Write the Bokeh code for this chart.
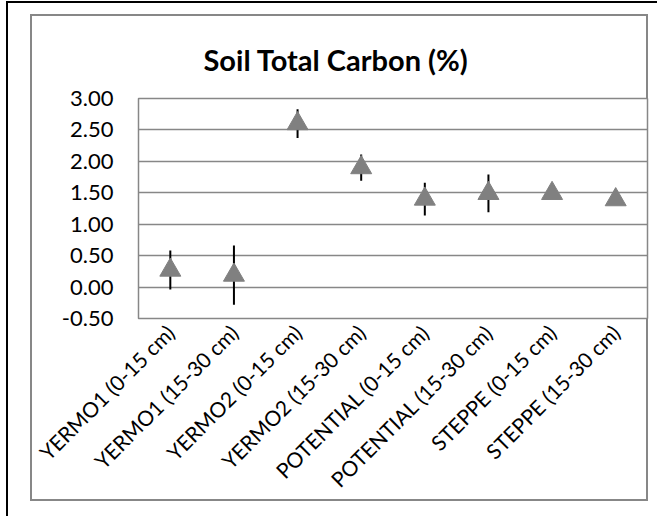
import math
from bokeh.plotting import figure
from bokeh.models import FixedTicker, ColumnDataSource, CustomJSTickFormatter
from bokeh.embed import file_html
from bokeh.resources import INLINE

categories = ["YERMO1 (0-15 cm)", "YERMO1 (15-30 cm)", "YERMO2 (0-15 cm)", "YERMO2 (15-30 cm)",
              "POTENTIAL (0-15 cm)", "POTENTIAL (15-30 cm)", "STEPPE (0-15 cm)", "STEPPE (15-30 cm)"]
values = [0.27, 0.19, 2.60, 1.90, 1.40, 1.49, 1.49, 1.39]
errors = [0.31, 0.47, 0.23, 0.21, 0.26, 0.30, 0.08, 0.08]
y_ticks = [-0.5, 0.0, 0.5, 1.0, 1.5, 2.0, 2.5, 3.0]
title_text = "Soil Total Carbon (%)"

lower = [v - e for v, e in zip(values, errors)]
upper = [v + e for v, e in zip(values, errors)]
src = ColumnDataSource(dict(cat=categories, val=values, lo=lower, hi=upper))

FONT = "Lato"
GRAY = "#878787"

def line(x, y, w, h, c):
    return f"linear-gradient({c}, {c}) {x}px {y}px / {w}px {h}px no-repeat"

# outer black frame (left/top) and grey chart-area border, drawn as CSS backgrounds
bg = ", ".join([
    line(6, 1, 2, 515, "#000"),
    line(6, 1, 651, 2, "#000"),
    line(30, 14, 2, 487, GRAY),
    line(30, 14, 618, 2, GRAY),
    line(646, 14, 2, 487, GRAY),
    line(30, 499, 618, 2, GRAY),
]) + ", #ffffff"

p = figure(x_range=categories, y_range=(y_ticks[0], y_ticks[-1]),
           width=657, height=516, output_backend="svg", toolbar_location=None,
           min_border_left=138, min_border_right=10, min_border_top=98, min_border_bottom=198,
           styles={"background": bg})
p.background_fill_color = "white"
p.border_fill_alpha = 0
p.outline_line_color = GRAY
p.outline_line_width = 1.5

p.title.text = title_text
p.title.text_font = FONT
p.title.text_font_style = "bold"
p.title.text_font_size = "29px"
p.title.text_color = "black"
p.title.align = "left"
p.title.offset = 65
p.title.standoff = 43

p.xgrid.grid_line_color = None
p.ygrid.grid_line_color = GRAY
p.ygrid.grid_line_width = 1.5
p.ygrid.ticker = FixedTicker(ticks=y_ticks)

p.yaxis.ticker = FixedTicker(ticks=y_ticks)
p.yaxis.formatter = CustomJSTickFormatter(code="return tick.toFixed(2);")
p.yaxis.axis_line_color = None
p.yaxis.major_tick_line_color = None
p.yaxis.minor_tick_line_color = None
p.yaxis.major_label_text_font = FONT
p.yaxis.major_label_text_font_size = "22px"
p.yaxis.major_label_text_color = "black"
p.yaxis.major_label_standoff = 19

p.xaxis.axis_line_color = None
p.xaxis.major_tick_line_color = None
p.xaxis.minor_tick_line_color = None
p.xaxis.major_label_orientation = math.pi / 4
p.xaxis.major_label_text_font = FONT
p.xaxis.major_label_text_font_size = "21px"
p.xaxis.major_label_text_color = "black"
p.xaxis.major_label_standoff = 4

p.segment(x0="cat", y0="lo", x1="cat", y1="hi", source=src, line_color="black", line_width=2)
p.scatter(x="cat", y="val", source=src, marker="triangle", size=21,
          fill_color="#808080", line_color="#808080")

open("out.html", "w").write(file_html(p, INLINE))
